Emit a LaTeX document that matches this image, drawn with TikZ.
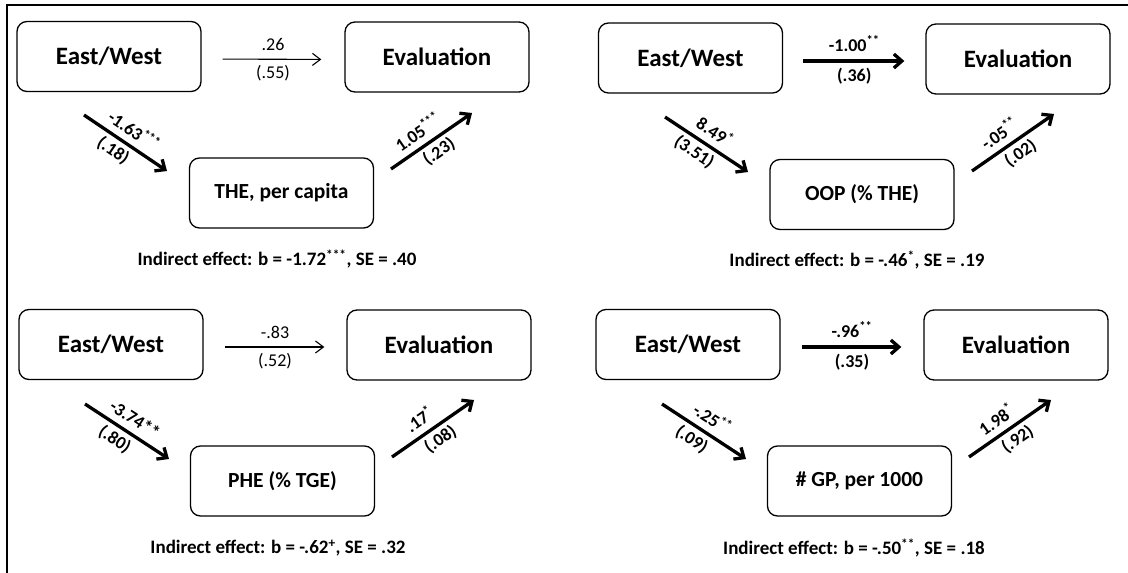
\documentclass[tikz,border=0pt]{standalone}
\usepackage{fontspec}
\setmainfont{Carlito}
\usetikzlibrary{arrows.meta}
\begin{document}
\begin{tikzpicture}[x=1pt,y=-1pt,
 box/.style={draw, rounded corners=10pt, line width=1.3pt, minimum width=184pt, minimum height=70pt, inner sep=0pt, font=\fontsize{25}{30}\selectfont\bfseries},
 medbox/.style={box, font=\fontsize{21.5}{26}\selectfont\bfseries},
 thinarr/.style={line width=1.1pt, -{Straight Barb[length=8pt,width=12pt]}},
 thickarr/.style={line width=3.3pt, -{Straight Barb[length=8pt,width=14pt]}},
 coef/.style={inner sep=1pt, font=\fontsize{18}{22}\selectfont},
 bcoef/.style={inner sep=1pt, font=\fontsize{18}{22}\selectfont\bfseries},
 dcoef/.style={inner sep=1pt, sloped, font=\fontsize{18}{22}\selectfont\bfseries},
 up/.style={above=5.5pt},
 dn/.style={below=2.5pt},
 ind/.style={font=\fontsize{19}{23}\selectfont\bfseries},
 frame/.style={line width=1.5pt},
]
\useasboundingbox (0,0) rectangle (1128,573);
\draw[frame] (7,573) -- (7,5) -- (1128,5);

% Panel 1
\node[box] (ew1) at (109,56.5) {East/West};
\node[box] (ev1) at (437,57) {Evaluation};
\node[medbox] (m1) at (281.5,193) {THE, per capita};
\draw[thinarr, shorten <=21pt, shorten >=23pt] ([yshift=-2.5pt]ew1.east) -- node[coef, above=7pt]{.26} node[coef, below=5pt]{(.55)} ([yshift=-2.5pt]ev1.west);
\coordinate (a1s) at (84,115); \coordinate (a1e) at (167,171);
\coordinate (b1s) at (391,169); \coordinate (b1e) at (472,113);
\draw[thickarr] (a1s) -- node[dcoef, pos=.5, up]{-1.63\textsuperscript{***}} node[dcoef, pos=.44, dn]{(.18)} (a1e);
\draw[thickarr] (b1s) -- node[dcoef, pos=.44, up]{1.05\textsuperscript{***}} node[dcoef, pos=.5, dn]{(.23)} (b1e);
\node[ind] (i1) at (277,259) {Indirect effect: b = -1.72\textsuperscript{***}, SE = .40};

% Panel 2
\node[box] (ew2) at (690.5,58) {East/West};
\node[box] (ev2) at (1018,59) {Evaluation};
\node[medbox] (m2) at (862,194.5) {OOP (\% THE)};
\draw[thickarr, shorten <=20pt, shorten >=21pt] ([yshift=-3pt]ew2.east) -- node[bcoef, above=7pt]{-1.00\textsuperscript{**}} node[bcoef, below=4.5pt]{(.36)} ([yshift=-2pt]ev2.west);
\coordinate (a2s) at (665,117); \coordinate (a2e) at (748,172);
\coordinate (b2s) at (972,171); \coordinate (b2e) at (1054,114);
\draw[thickarr] (a2s) -- node[dcoef, pos=.5, up]{8.49\textsuperscript{*}} node[dcoef, pos=.44, dn]{(3.51)} (a2e);
\draw[thickarr] (b2s) -- node[dcoef, pos=.44, up]{-.05\textsuperscript{**}} node[dcoef, pos=.5, dn]{(.02)} (b2e);
\node[ind] (i2) at (857,260) {Indirect effect: b = -.46\textsuperscript{*}, SE = .19};

% Panel 3
\node[box] (ew3) at (111,344.5) {East/West};
\node[box] (ev3) at (439,345) {Evaluation};
\node[medbox] (m3) at (282.5,481) {PHE (\% TGE)};
\draw[thinarr, shorten <=21pt, shorten >=22pt] ([yshift=-2.5pt]ew3.east) -- node[coef, above=7pt]{-.83} node[coef, below=5pt]{(.52)} ([yshift=-2pt]ev3.west);
\coordinate (a3s) at (85,404); \coordinate (a3e) at (169,459);
\coordinate (b3s) at (392,457); \coordinate (b3e) at (474,400);
\draw[thickarr] (a3s) -- node[dcoef, pos=.5, up]{-3.74**} node[dcoef, pos=.44, dn]{(.80)} (a3e);
\draw[thickarr] (b3s) -- node[dcoef, pos=.44, up]{.17\textsuperscript{*}} node[dcoef, pos=.5, dn]{(.08)} (b3e);
\node[ind] (i3) at (278,548) {Indirect effect: b = -.62\textsuperscript{+}, SE = .32};

% Panel 4
\node[box] (ew4) at (688,344.5) {East/West};
\node[box] (ev4) at (1016,345) {Evaluation};
\node[medbox] (m4) at (859.5,481) {\# GP, per 1000};
\draw[thickarr, shorten <=21pt, shorten >=22pt] ([yshift=-2.5pt]ew4.east) -- node[bcoef, above=7pt]{-.96\textsuperscript{**}} node[bcoef, below=4.5pt]{(.35)} ([yshift=-2pt]ev4.west);
\coordinate (a4s) at (662,404); \coordinate (a4e) at (746,459);
\coordinate (b4s) at (969,457); \coordinate (b4e) at (1051,400);
\draw[thickarr] (a4s) -- node[dcoef, pos=.5, up]{-.25\textsuperscript{**}} node[dcoef, pos=.44, dn]{(.09)} (a4e);
\draw[thickarr] (b4s) -- node[dcoef, pos=.44, up]{1.98\textsuperscript{*}} node[dcoef, pos=.5, dn]{(.92)} (b4e);
\node[ind] (i4) at (854,548) {Indirect effect: b = -.50\textsuperscript{**}, SE = .18};
\end{tikzpicture}
\end{document}
